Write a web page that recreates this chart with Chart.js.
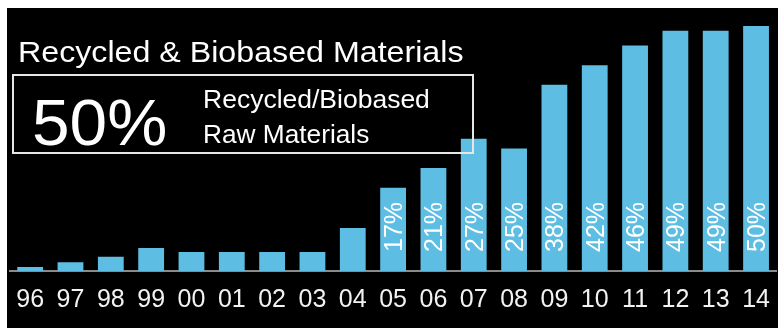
<!DOCTYPE html>
<html>
<head>
<meta charset="utf-8">
<script src="https://cdn.jsdelivr.net/npm/chart.js@4/dist/chart.umd.min.js"></script>
<style>
  html, body { margin: 0; padding: 0; background: #fff; overflow: hidden; }
  #bg { position: absolute; left: 7px; top: 8px; right: 0; bottom: 0; background: #000; }
  #chart { position: absolute; left: 0; top: 0; }
</style>
</head>
<body>
<div id="bg"></div>
<canvas id="chart" width="784" height="328"></canvas>
<script>
const years = ['96', '97', '98', '99', '00', '01', '02', '03', '04', '05', '06', '07', '08', '09', '10', '11', '12', '13', '14'];
const shares = [0.8, 1.8, 2.9, 4.7, 3.9, 3.9, 3.9, 3.9, 8.8, 17, 21, 27, 25, 38, 42, 46, 49, 49, 50];
const barLabels = [null, null, null, null, null, null, null, null, null, '17%', '21%', '27%', '25%', '38%', '42%', '46%', '49%', '49%', '50%'];
const headline = 'Recycled & Biobased Materials';
const bigFigure = '50%';
const boxLines = ['Recycled/Biobased', 'Raw Materials'];

const FONT = "'Liberation Sans', Arial, Helvetica, sans-serif";

// percentages written up the inside of the bars
const barText = {
  id: 'barText',
  afterDatasetsDraw(chart) {
    const ctx = chart.ctx;
    const meta = chart.getDatasetMeta(0);
    ctx.save();
    ctx.fillStyle = '#fff';
    ctx.font = '25px ' + FONT;
    ctx.textAlign = 'left';
    ctx.textBaseline = 'alphabetic';
    meta.data.forEach((bar, i) => {
      if (!barLabels[i]) return;
      ctx.save();
      ctx.translate(bar.x + 9, bar.base - 19);
      ctx.rotate(-Math.PI / 2);
      ctx.fillText(barLabels[i], 0, 0);
      ctx.restore();
    });
    ctx.restore();
  }
};

// headline and the framed callout
const callout = {
  id: 'callout',
  afterDraw(chart) {
    const ctx = chart.ctx;
    ctx.save();
    ctx.fillStyle = '#fff';
    ctx.textAlign = 'left';
    ctx.textBaseline = 'alphabetic';

    const stretched = (txt, x, y, size, sx) => {
      ctx.save();
      ctx.font = size + 'px ' + FONT;
      ctx.translate(x, y);
      ctx.scale(sx, 1);
      ctx.fillText(txt, 0, 0);
      ctx.restore();
    };

    stretched(headline, 18, 62, 29, 1.11);

    ctx.strokeStyle = '#e6e6e6';
    ctx.lineWidth = 2;
    ctx.strokeRect(13, 75, 460, 78);

    stretched(bigFigure, 32, 145, 65, 1.04);
    stretched(boxLines[0], 203, 108, 25, 1.06);
    stretched(boxLines[1], 203, 143, 25, 1.05);
    ctx.restore();
  }
};

const ctx = document.getElementById('chart').getContext('2d');
const chart = new Chart(ctx, {
  type: 'bar',
  data: {
    labels: years,
    datasets: [{
      data: shares,
      backgroundColor: '#5dbde2',
      borderWidth: 0,
      barPercentage: 0.64,
      categoryPercentage: 1
    }]
  },
  options: {
    responsive: false,
    animation: false,
    devicePixelRatio: 1,
    layout: { padding: { left: 10, right: 2, top: 0, bottom: 0 } },
    plugins: {
      legend: { display: false },
      tooltip: { enabled: false }
    },
    scales: {
      x: {
        grid: { display: false, drawTicks: false },
        border: { display: true, color: '#8a8a8a', width: 2 },
        ticks: {
          color: '#f2f2f2',
          font: { family: FONT, size: 25 },
          padding: 14,
          maxRotation: 0,
          autoSkip: false
        },
        afterFit(scale) { scale.height = 57; }
      },
      y: {
        display: false,
        min: 0,
        max: 55.3
      }
    }
  },
  plugins: [barText, callout]
});
</script>
</body>
</html>
